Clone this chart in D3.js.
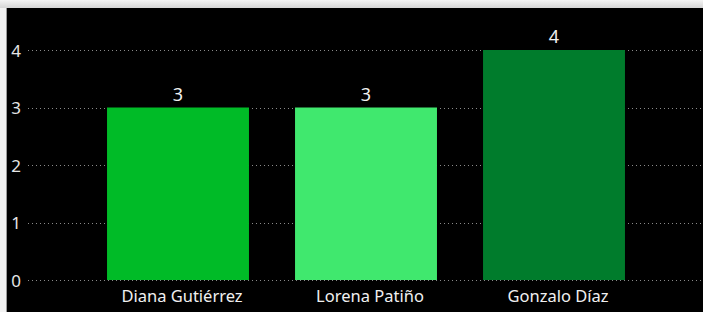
<!DOCTYPE html>
<html><head><meta charset="utf-8">
<script src="https://cdn.jsdelivr.net/npm/d3@7"></script>
<style>
html,body{margin:0;padding:0;background:#fff;}
svg{display:block;}
text{font-family:"Segoe UI","Noto Sans","Open Sans",sans-serif;}
</style></head>
<body>
<svg id="c" width="703" height="312"></svg>
<script>
const categories = ["Diana Gutiérrez", "Lorena Patiño", "Gonzalo Díaz"];
const values = [3, 3, 4];
const barColors = ["#00BB27", "#40E86E", "#007C2C"];
const yTicks = [0, 1, 2, 3, 4];

const svg = d3.select("#c");
const W = 703, H = 312;

const defs = svg.append("defs");
const g1 = defs.append("linearGradient").attr("id","tg").attr("x1",0).attr("y1",0).attr("x2",0).attr("y2",1);
g1.append("stop").attr("offset","0%").attr("stop-color","#f4f4f4");
g1.append("stop").attr("offset","100%").attr("stop-color","#d6d6d6");

svg.append("rect").attr("x",0).attr("y",0).attr("width",W).attr("height",H).attr("fill","#f2f2f2");
svg.append("rect").attr("x",0).attr("y",0).attr("width",W).attr("height",8).attr("fill","url(#tg)");
svg.append("rect").attr("x",6).attr("y",8).attr("width",W-6).attr("height",H-8).attr("fill","#000");
svg.append("line").attr("x1",6.5).attr("x2",6.5).attr("y1",8).attr("y2",H).attr("stroke","#9a9a9a").attr("stroke-width",1);

const x = d3.scaleBand().domain(categories).range([84, 648]).paddingInner(0.245).paddingOuter(0.1225);
const y = d3.scaleLinear().domain([0, 4]).range([280, 50]);

// gridlines
svg.append("g").selectAll("line").data(yTicks).join("line")
  .attr("x1", 28).attr("x2", W)
  .attr("y1", d => Math.round(y(d)) + 0.5).attr("y2", d => Math.round(y(d)) + 0.5)
  .attr("stroke", "#8a8a8a").attr("stroke-width", 1).attr("stroke-dasharray", "1,3");

// y axis labels
const yAxis = d3.axisLeft(y).tickValues(yTicks).tickSize(0).tickPadding(0).tickFormat(d3.format("d"));
const ya = svg.append("g").attr("transform","translate(21,0)").call(yAxis);
ya.select(".domain").remove();
ya.selectAll("text").attr("fill","#e6e6e6").attr("font-size",17).attr("text-anchor","end").attr("dy","0.36em");

// bars
svg.append("g").selectAll("rect").data(values).join("rect")
  .attr("x", (d,i) => x(categories[i]))
  .attr("y", d => y(d))
  .attr("width", x.bandwidth())
  .attr("height", d => y(0) - y(d))
  .attr("fill", (d,i) => barColors[i]);

// value labels
svg.append("g").selectAll("text").data(values).join("text")
  .attr("x", (d,i) => x(categories[i]) + x.bandwidth()/2)
  .attr("y", d => y(d) - 7)
  .attr("text-anchor","middle").attr("fill","#f0f0f0").attr("font-size",18)
  .text(d => d);

// x axis labels
const xAxis = d3.axisBottom(x).tickSize(0).tickPadding(0);
const xa = svg.append("g").attr("transform","translate(0,302)").call(xAxis);
xa.select(".domain").remove();
xa.selectAll("text").attr("fill","#f0f0f0").attr("font-size",16.5).attr("y",0).attr("dy",0).attr("dx",4);
</script>
</body></html>
